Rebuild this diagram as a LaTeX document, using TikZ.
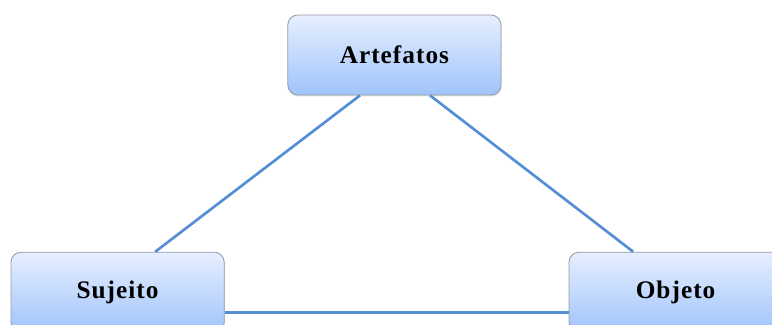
\documentclass[tikz,border=0pt]{standalone}
\usepackage{fontspec}
\setmainfont{Liberation Serif}
\newfontfamily\entfont[LetterSpace=4]{Liberation Serif}
\usepackage{tikz}
\usetikzlibrary{shadows}

\definecolor{boxtop}{RGB}{230,239,255}
\definecolor{boxbot}{RGB}{160,196,250}
\definecolor{boxline}{RGB}{150,155,165}
\definecolor{linkblue}{RGB}{85,142,213}

\begin{document}
\begin{tikzpicture}[
    ent/.style={draw=boxline, line width=0.6pt, rounded corners=0.25cm,
        top color=boxtop, bottom color=boxbot,
        minimum width=5.33cm, minimum height=2cm,
        font=\entfont\fontsize{18}{21}\selectfont\bfseries,
        drop shadow={opacity=0.25, shadow xshift=0.5pt, shadow yshift=-1pt}},
    link/.style={linkblue, line width=1.9pt}
]
    \useasboundingbox (0,0) rectangle (19.3,8.125);
    \clip (0,0) rectangle (19.3,8.125);
    \node[ent] (art) at (9.86,6.75) {Artefatos};
    \node[ent] (suj) at (2.94,0.82) {Sujeito};
    \node[ent] (obj) at (16.89,0.82) {Objeto};
    \draw[link] ([xshift=-0.86cm]art.south) -- ([xshift=0.94cm]suj.north);
    \draw[link] ([xshift=0.89cm]art.south) -- ([xshift=-1.06cm]obj.north);
    \draw[link] ([yshift=-0.5cm]suj.east) -- ([yshift=-0.5cm]obj.west);
\end{tikzpicture}
\end{document}
